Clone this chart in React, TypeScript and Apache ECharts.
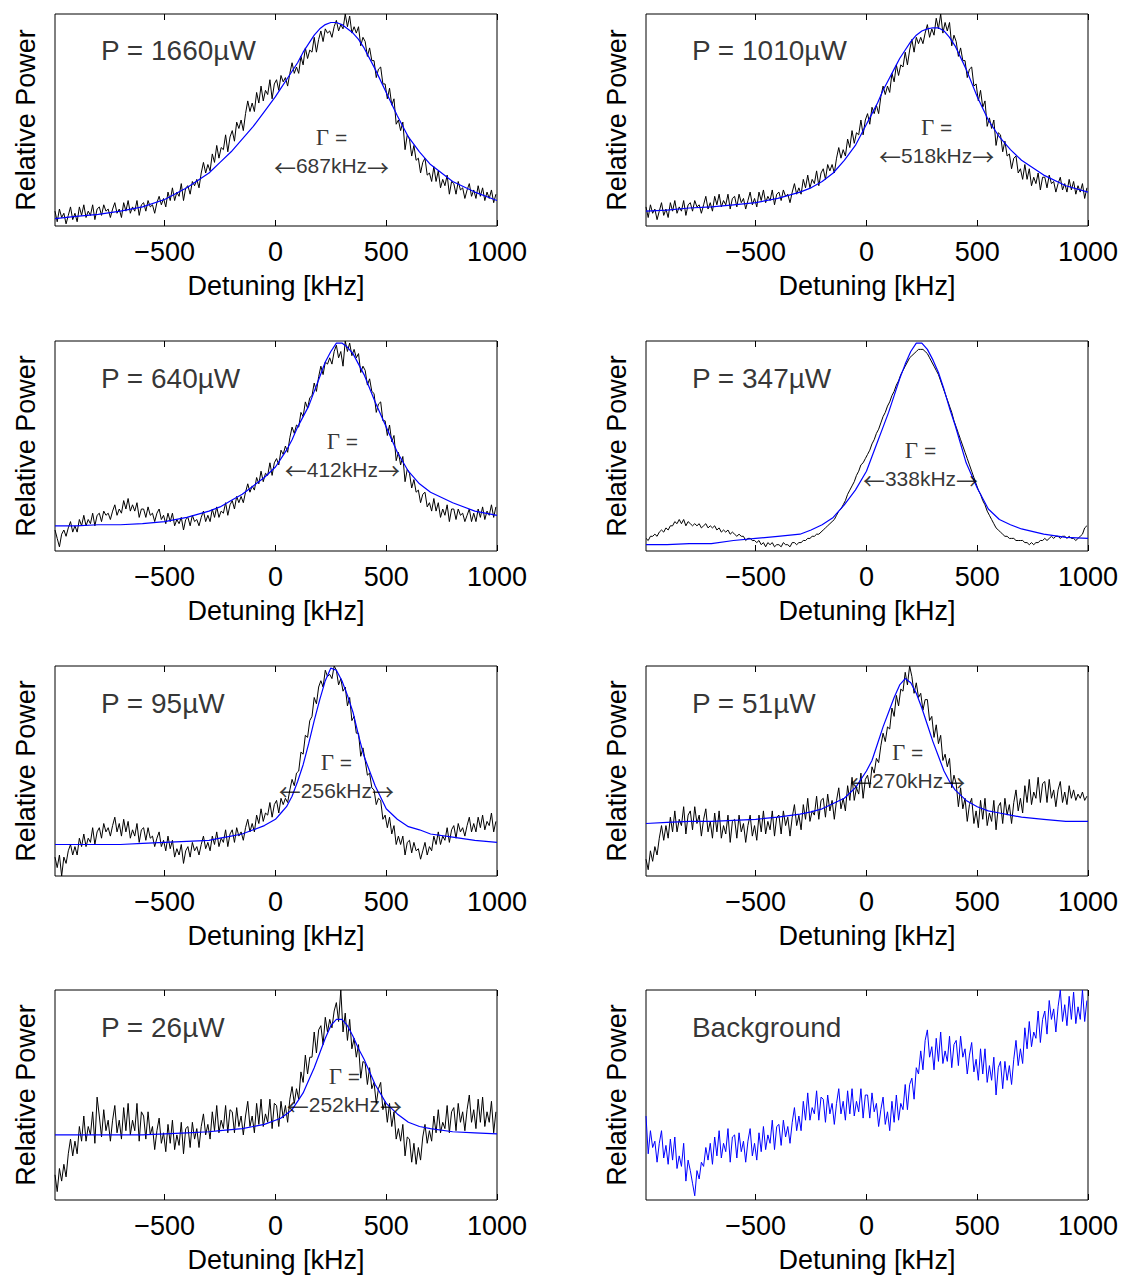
import React, { useEffect, useRef } from "react";
import * as echarts from "echarts";

// Detuning sample grid of the measured traces [kHz]
const DETUNING = [
  -995, -985, -975, -965, -955, -945, -935, -925, -915, -905, -895, -885, -875, -865, -855, -845, -835, -825, -815, -805,
  -795, -785, -775, -765, -755, -745, -735, -725, -715, -705, -695, -685, -675, -665, -655, -645, -635, -625, -615, -605,
  -595, -585, -575, -565, -555, -545, -535, -525, -515, -505, -495, -485, -475, -465, -455, -445, -435, -425, -415, -405,
  -395, -385, -375, -365, -355, -345, -335, -325, -315, -305, -295, -285, -275, -265, -255, -245, -235, -225, -215, -205,
  -195, -185, -175, -165, -155, -145, -135, -125, -115, -105, -95, -85, -75, -65, -55, -45, -35, -25, -15, -5,
  5, 15, 25, 35, 45, 55, 65, 75, 85, 95, 105, 115, 125, 135, 145, 155, 165, 175, 185, 195,
  205, 215, 225, 235, 245, 255, 265, 275, 285, 295, 305, 315, 325, 335, 345, 355, 365, 375, 385, 395,
  405, 415, 425, 435, 445, 455, 465, 475, 485, 495, 505, 515, 525, 535, 545, 555, 565, 575, 585, 595,
  605, 615, 625, 635, 645, 655, 665, 675, 685, 695, 705, 715, 725, 735, 745, 755, 765, 775, 785, 795,
  805, 815, 825, 835, 845, 855, 865, 875, 885, 895, 905, 915, 925, 935, 945, 955, 965, 975, 985, 995,
];

// Detuning grid of the fitted curves [kHz]
const FIT_DETUNING = [
  -995, -900, -800, -700, -600, -500, -400, -300, -250, -200, -150, -100, -50,
  0, 25, 50, 75, 100, 125, 150, 175, 200, 225, 250, 275, 300, 325, 350, 375,
  400, 450, 500, 550, 600, 650, 700, 800, 900, 1000,
];

const X_TICKS = [-500, 0, 500, 1000];

// Measured relative power (normalised to the panel's range)
const TRACE_1660 = [
  0.07, 0.02, 0.08, 0.04, 0.06, 0.01, 0.05, 0.09, 0.03, 0.06, 0.02, 0.09, 0.05, 0.10, 0.04, 0.07, 0.05, 0.10, 0.03, 0.08,
  0.09, 0.05, 0.10, 0.07, 0.08, 0.04, 0.08, 0.11, 0.06, 0.08, 0.04, 0.11, 0.07, 0.12, 0.06, 0.09, 0.07, 0.12, 0.05, 0.10,
  0.11, 0.07, 0.12, 0.09, 0.10, 0.06, 0.11, 0.14, 0.10, 0.13, 0.09, 0.16, 0.12, 0.18, 0.12, 0.16, 0.14, 0.20, 0.12, 0.18,
  0.19, 0.15, 0.21, 0.19, 0.22, 0.18, 0.25, 0.30, 0.25, 0.29, 0.26, 0.34, 0.30, 0.38, 0.32, 0.37, 0.36, 0.43, 0.35, 0.42,
  0.45, 0.40, 0.49, 0.46, 0.50, 0.45, 0.53, 0.59, 0.54, 0.58, 0.54, 0.63, 0.58, 0.66, 0.59, 0.64, 0.62, 0.69, 0.60, 0.67,
  0.69, 0.64, 0.71, 0.68, 0.70, 0.66, 0.72, 0.77, 0.72, 0.75, 0.72, 0.80, 0.76, 0.84, 0.79, 0.83, 0.82, 0.89, 0.82, 0.88,
  0.92, 0.87, 0.93, 0.91, 0.92, 0.89, 0.94, 0.97, 0.92, 0.95, 0.93, 1.00, 0.94, 0.99, 0.91, 0.94, 0.91, 0.94, 0.85, 0.89,
  0.87, 0.80, 0.84, 0.78, 0.78, 0.70, 0.74, 0.75, 0.67, 0.67, 0.60, 0.65, 0.57, 0.60, 0.48, 0.50, 0.45, 0.49, 0.36, 0.43,
  0.41, 0.33, 0.38, 0.31, 0.32, 0.25, 0.30, 0.32, 0.24, 0.25, 0.21, 0.28, 0.21, 0.26, 0.18, 0.22, 0.19, 0.24, 0.15, 0.21,
  0.20, 0.15, 0.21, 0.17, 0.18, 0.13, 0.17, 0.20, 0.14, 0.17, 0.13, 0.19, 0.14, 0.18, 0.12, 0.16, 0.13, 0.17, 0.11, 0.15,
];
const TRACE_1010 = [
  0.09, 0.04, 0.10, 0.06, 0.08, 0.03, 0.07, 0.11, 0.05, 0.08, 0.04, 0.11, 0.07, 0.12, 0.06, 0.09, 0.07, 0.12, 0.05, 0.10,
  0.11, 0.07, 0.12, 0.09, 0.10, 0.06, 0.10, 0.14, 0.08, 0.11, 0.07, 0.14, 0.10, 0.15, 0.09, 0.12, 0.10, 0.15, 0.08, 0.13,
  0.14, 0.09, 0.15, 0.11, 0.13, 0.08, 0.12, 0.16, 0.10, 0.13, 0.09, 0.16, 0.12, 0.17, 0.11, 0.14, 0.12, 0.17, 0.10, 0.15,
  0.16, 0.12, 0.17, 0.14, 0.15, 0.11, 0.16, 0.20, 0.15, 0.18, 0.15, 0.22, 0.18, 0.24, 0.18, 0.22, 0.20, 0.26, 0.19, 0.25,
  0.27, 0.22, 0.29, 0.26, 0.29, 0.25, 0.32, 0.37, 0.32, 0.36, 0.33, 0.41, 0.37, 0.45, 0.39, 0.44, 0.43, 0.50, 0.43, 0.50,
  0.53, 0.48, 0.56, 0.53, 0.57, 0.53, 0.61, 0.66, 0.62, 0.66, 0.63, 0.72, 0.68, 0.76, 0.71, 0.76, 0.75, 0.82, 0.76, 0.83,
  0.88, 0.82, 0.89, 0.86, 0.89, 0.86, 0.91, 0.95, 0.89, 0.93, 0.90, 0.98, 0.93, 1.00, 0.91, 0.96, 0.92, 0.96, 0.85, 0.90,
  0.87, 0.80, 0.84, 0.78, 0.78, 0.70, 0.74, 0.75, 0.66, 0.67, 0.59, 0.64, 0.56, 0.59, 0.47, 0.51, 0.46, 0.50, 0.38, 0.44,
  0.43, 0.35, 0.40, 0.33, 0.34, 0.27, 0.32, 0.33, 0.25, 0.27, 0.22, 0.29, 0.22, 0.27, 0.19, 0.23, 0.20, 0.25, 0.17, 0.23,
  0.23, 0.18, 0.24, 0.20, 0.21, 0.16, 0.20, 0.23, 0.17, 0.20, 0.16, 0.22, 0.17, 0.21, 0.15, 0.19, 0.16, 0.20, 0.13, 0.18,
];
const TRACE_640 = [
  0.10, 0.06, 0.02, 0.08, 0.10, 0.07, 0.11, 0.14, 0.09, 0.12, 0.09, 0.15, 0.12, 0.17, 0.12, 0.15, 0.13, 0.18, 0.12, 0.17,
  0.18, 0.14, 0.19, 0.17, 0.18, 0.15, 0.19, 0.22, 0.17, 0.20, 0.18, 0.24, 0.20, 0.25, 0.19, 0.22, 0.19, 0.23, 0.16, 0.20,
  0.20, 0.16, 0.21, 0.17, 0.18, 0.14, 0.18, 0.20, 0.15, 0.17, 0.13, 0.18, 0.14, 0.18, 0.12, 0.15, 0.13, 0.16, 0.10, 0.15,
  0.16, 0.12, 0.17, 0.14, 0.15, 0.12, 0.16, 0.19, 0.14, 0.17, 0.14, 0.20, 0.16, 0.21, 0.16, 0.19, 0.18, 0.23, 0.17, 0.22,
  0.24, 0.20, 0.26, 0.23, 0.26, 0.23, 0.28, 0.32, 0.28, 0.31, 0.29, 0.35, 0.32, 0.38, 0.33, 0.37, 0.36, 0.42, 0.36, 0.42,
  0.44, 0.41, 0.48, 0.46, 0.50, 0.47, 0.54, 0.59, 0.56, 0.60, 0.59, 0.66, 0.64, 0.71, 0.68, 0.73, 0.74, 0.80, 0.76, 0.83,
  0.88, 0.84, 0.90, 0.89, 0.92, 0.89, 0.95, 0.98, 0.92, 0.95, 0.88, 1.00, 0.95, 0.99, 0.93, 0.96, 0.92, 0.94, 0.85, 0.88,
  0.86, 0.79, 0.82, 0.76, 0.75, 0.66, 0.70, 0.71, 0.62, 0.62, 0.55, 0.60, 0.52, 0.55, 0.43, 0.47, 0.41, 0.45, 0.33, 0.39,
  0.37, 0.30, 0.34, 0.28, 0.29, 0.23, 0.27, 0.28, 0.21, 0.23, 0.19, 0.25, 0.19, 0.23, 0.16, 0.20, 0.17, 0.22, 0.14, 0.20,
  0.20, 0.15, 0.20, 0.17, 0.18, 0.14, 0.17, 0.20, 0.14, 0.18, 0.14, 0.20, 0.16, 0.21, 0.15, 0.19, 0.17, 0.22, 0.16, 0.21,
];
const TRACE_347 = [
  0.06, 0.05, 0.07, 0.07, 0.08, 0.07, 0.09, 0.10, 0.09, 0.11, 0.10, 0.12, 0.12, 0.14, 0.13, 0.15, 0.13, 0.15, 0.12, 0.14,
  0.13, 0.12, 0.13, 0.12, 0.13, 0.11, 0.12, 0.13, 0.11, 0.12, 0.11, 0.12, 0.10, 0.11, 0.09, 0.10, 0.09, 0.10, 0.08, 0.09,
  0.08, 0.07, 0.08, 0.07, 0.07, 0.05, 0.06, 0.06, 0.05, 0.05, 0.04, 0.05, 0.03, 0.04, 0.02, 0.04, 0.03, 0.04, 0.02, 0.03,
  0.03, 0.02, 0.04, 0.03, 0.03, 0.02, 0.04, 0.04, 0.03, 0.04, 0.04, 0.05, 0.05, 0.06, 0.06, 0.07, 0.07, 0.08, 0.08, 0.09,
  0.10, 0.11, 0.12, 0.13, 0.14, 0.15, 0.17, 0.19, 0.20, 0.22, 0.24, 0.27, 0.29, 0.31, 0.33, 0.36, 0.38, 0.41, 0.42, 0.44,
  0.46, 0.48, 0.51, 0.53, 0.56, 0.58, 0.61, 0.64, 0.66, 0.69, 0.71, 0.74, 0.76, 0.79, 0.81, 0.84, 0.86, 0.88, 0.90, 0.92,
  0.93, 0.94, 0.95, 0.96, 0.96, 0.96, 0.95, 0.94, 0.92, 0.90, 0.88, 0.86, 0.84, 0.81, 0.78, 0.75, 0.72, 0.69, 0.66, 0.62,
  0.59, 0.56, 0.53, 0.50, 0.47, 0.44, 0.41, 0.38, 0.35, 0.32, 0.29, 0.27, 0.24, 0.22, 0.19, 0.17, 0.15, 0.13, 0.11, 0.10,
  0.09, 0.08, 0.07, 0.07, 0.06, 0.06, 0.06, 0.05, 0.05, 0.05, 0.05, 0.04, 0.04, 0.03, 0.04, 0.03, 0.04, 0.04, 0.05, 0.05,
  0.06, 0.05, 0.06, 0.07, 0.06, 0.07, 0.07, 0.06, 0.07, 0.07, 0.06, 0.07, 0.06, 0.06, 0.05, 0.06, 0.07, 0.08, 0.11, 0.12,
];
const TRACE_95 = [
  0.09, 0.04, 0.10, 0.00, 0.09, 0.06, 0.12, 0.15, 0.10, 0.14, 0.10, 0.18, 0.14, 0.20, 0.14, 0.18, 0.16, 0.23, 0.15, 0.21,
  0.23, 0.18, 0.25, 0.21, 0.23, 0.19, 0.24, 0.28, 0.21, 0.25, 0.19, 0.27, 0.21, 0.26, 0.18, 0.22, 0.19, 0.25, 0.16, 0.22,
  0.23, 0.17, 0.23, 0.18, 0.19, 0.14, 0.18, 0.21, 0.14, 0.17, 0.12, 0.19, 0.13, 0.17, 0.09, 0.13, 0.10, 0.15, 0.06, 0.12,
  0.14, 0.09, 0.16, 0.12, 0.14, 0.10, 0.15, 0.19, 0.13, 0.16, 0.12, 0.19, 0.15, 0.21, 0.14, 0.18, 0.16, 0.22, 0.14, 0.20,
  0.22, 0.16, 0.23, 0.19, 0.21, 0.17, 0.23, 0.27, 0.21, 0.25, 0.21, 0.29, 0.25, 0.32, 0.26, 0.30, 0.29, 0.35, 0.28, 0.34,
  0.36, 0.30, 0.37, 0.34, 0.37, 0.35, 0.41, 0.46, 0.43, 0.49, 0.50, 0.59, 0.58, 0.67, 0.66, 0.74, 0.76, 0.85, 0.82, 0.90,
  0.93, 0.90, 0.98, 0.95, 0.96, 0.94, 1.00, 0.98, 0.91, 0.94, 0.88, 0.90, 0.81, 0.85, 0.74, 0.76, 0.68, 0.68, 0.57, 0.61,
  0.55, 0.48, 0.49, 0.42, 0.41, 0.34, 0.37, 0.36, 0.27, 0.29, 0.23, 0.28, 0.20, 0.24, 0.15, 0.19, 0.15, 0.19, 0.10, 0.16,
  0.17, 0.11, 0.16, 0.12, 0.13, 0.08, 0.12, 0.16, 0.10, 0.14, 0.12, 0.19, 0.15, 0.21, 0.15, 0.19, 0.17, 0.23, 0.16, 0.22,
  0.24, 0.18, 0.25, 0.21, 0.23, 0.19, 0.24, 0.28, 0.21, 0.25, 0.21, 0.28, 0.23, 0.29, 0.22, 0.26, 0.24, 0.30, 0.21, 0.26,
];
const TRACE_51 = [
  0.08, 0.03, 0.12, 0.07, 0.14, 0.10, 0.18, 0.24, 0.17, 0.24, 0.18, 0.28, 0.21, 0.31, 0.21, 0.27, 0.24, 0.33, 0.20, 0.29,
  0.31, 0.22, 0.33, 0.25, 0.29, 0.19, 0.27, 0.32, 0.21, 0.26, 0.18, 0.30, 0.21, 0.31, 0.18, 0.24, 0.20, 0.29, 0.16, 0.26,
  0.27, 0.18, 0.29, 0.21, 0.25, 0.16, 0.24, 0.29, 0.19, 0.24, 0.17, 0.29, 0.21, 0.31, 0.20, 0.26, 0.22, 0.31, 0.19, 0.28,
  0.29, 0.20, 0.31, 0.24, 0.28, 0.19, 0.28, 0.34, 0.24, 0.29, 0.22, 0.34, 0.27, 0.37, 0.26, 0.31, 0.29, 0.38, 0.27, 0.36,
  0.37, 0.28, 0.39, 0.31, 0.36, 0.27, 0.36, 0.42, 0.32, 0.37, 0.31, 0.43, 0.36, 0.47, 0.36, 0.42, 0.39, 0.49, 0.37, 0.46,
  0.48, 0.42, 0.52, 0.49, 0.56, 0.54, 0.62, 0.68, 0.64, 0.71, 0.70, 0.80, 0.76, 0.86, 0.81, 0.89, 0.88, 0.97, 0.91, 1.00,
  0.95, 0.87, 0.92, 0.85, 0.87, 0.79, 0.84, 0.84, 0.74, 0.76, 0.66, 0.72, 0.63, 0.67, 0.55, 0.58, 0.52, 0.56, 0.42, 0.48,
  0.44, 0.33, 0.42, 0.32, 0.37, 0.26, 0.34, 0.37, 0.25, 0.31, 0.23, 0.36, 0.27, 0.37, 0.24, 0.30, 0.26, 0.36, 0.22, 0.33,
  0.35, 0.25, 0.37, 0.29, 0.34, 0.25, 0.35, 0.41, 0.31, 0.37, 0.30, 0.43, 0.35, 0.46, 0.34, 0.40, 0.37, 0.47, 0.35, 0.44,
  0.45, 0.35, 0.46, 0.37, 0.41, 0.33, 0.41, 0.45, 0.35, 0.40, 0.34, 0.43, 0.37, 0.41, 0.36, 0.39, 0.37, 0.40, 0.36, 0.38,
];
const TRACE_26 = [
  0.12, 0.04, 0.15, 0.09, 0.17, 0.11, 0.22, 0.29, 0.21, 0.28, 0.22, 0.35, 0.28, 0.40, 0.28, 0.35, 0.31, 0.42, 0.27, 0.49,
  0.40, 0.30, 0.43, 0.33, 0.38, 0.28, 0.38, 0.45, 0.32, 0.38, 0.29, 0.44, 0.33, 0.46, 0.31, 0.38, 0.33, 0.46, 0.28, 0.42,
  0.40, 0.29, 0.42, 0.31, 0.35, 0.24, 0.33, 0.39, 0.27, 0.32, 0.23, 0.36, 0.27, 0.38, 0.24, 0.31, 0.26, 0.37, 0.22, 0.34,
  0.35, 0.25, 0.37, 0.29, 0.34, 0.25, 0.35, 0.41, 0.31, 0.36, 0.29, 0.42, 0.33, 0.45, 0.32, 0.38, 0.34, 0.45, 0.32, 0.43,
  0.42, 0.32, 0.44, 0.35, 0.40, 0.31, 0.40, 0.47, 0.35, 0.40, 0.32, 0.46, 0.36, 0.48, 0.35, 0.41, 0.37, 0.48, 0.34, 0.46,
  0.45, 0.35, 0.47, 0.39, 0.45, 0.37, 0.48, 0.54, 0.46, 0.53, 0.48, 0.61, 0.56, 0.69, 0.60, 0.68, 0.68, 0.80, 0.70, 0.81,
  0.83, 0.74, 0.87, 0.80, 0.86, 0.82, 0.90, 0.94, 0.85, 1.00, 0.80, 0.89, 0.76, 0.86, 0.72, 0.77, 0.68, 0.74, 0.58, 0.66,
  0.65, 0.55, 0.63, 0.53, 0.56, 0.46, 0.53, 0.56, 0.43, 0.47, 0.37, 0.46, 0.35, 0.42, 0.29, 0.34, 0.28, 0.36, 0.21, 0.30,
  0.29, 0.18, 0.27, 0.17, 0.25, 0.19, 0.30, 0.36, 0.27, 0.33, 0.28, 0.40, 0.32, 0.43, 0.32, 0.37, 0.34, 0.45, 0.32, 0.42,
  0.44, 0.33, 0.46, 0.37, 0.42, 0.33, 0.43, 0.50, 0.37, 0.43, 0.34, 0.48, 0.37, 0.49, 0.35, 0.42, 0.37, 0.47, 0.32, 0.42,
];
const TRACE_BACKGROUND = [
  0.40, 0.22, 0.33, 0.25, 0.28, 0.18, 0.27, 0.33, 0.20, 0.26, 0.17, 0.29, 0.19, 0.30, 0.15, 0.21, 0.16, 0.27, 0.09, 0.19,
  0.14, 0.08, 0.02, 0.14, 0.10, 0.18, 0.16, 0.25, 0.19, 0.27, 0.17, 0.30, 0.21, 0.33, 0.20, 0.27, 0.23, 0.34, 0.18, 0.30,
  0.31, 0.20, 0.32, 0.23, 0.28, 0.18, 0.28, 0.34, 0.21, 0.27, 0.19, 0.32, 0.23, 0.35, 0.24, 0.31, 0.27, 0.38, 0.24, 0.35,
  0.36, 0.26, 0.38, 0.30, 0.35, 0.27, 0.37, 0.44, 0.33, 0.40, 0.33, 0.47, 0.38, 0.51, 0.38, 0.44, 0.41, 0.52, 0.38, 0.49,
  0.48, 0.37, 0.50, 0.41, 0.46, 0.36, 0.46, 0.53, 0.41, 0.47, 0.38, 0.52, 0.41, 0.53, 0.40, 0.47, 0.42, 0.53, 0.39, 0.50,
  0.50, 0.39, 0.51, 0.42, 0.46, 0.35, 0.43, 0.49, 0.36, 0.42, 0.33, 0.47, 0.37, 0.50, 0.38, 0.46, 0.43, 0.55, 0.43, 0.55,
  0.58, 0.48, 0.63, 0.60, 0.71, 0.62, 0.76, 0.81, 0.68, 0.73, 0.62, 0.77, 0.66, 0.80, 0.65, 0.71, 0.66, 0.78, 0.63, 0.74,
  0.76, 0.64, 0.78, 0.68, 0.72, 0.60, 0.69, 0.75, 0.61, 0.67, 0.57, 0.72, 0.60, 0.72, 0.56, 0.64, 0.57, 0.68, 0.50, 0.63,
  0.66, 0.53, 0.66, 0.57, 0.64, 0.55, 0.67, 0.76, 0.64, 0.72, 0.65, 0.82, 0.72, 0.85, 0.73, 0.80, 0.77, 0.90, 0.75, 0.86,
  0.90, 0.79, 0.95, 0.86, 0.91, 0.80, 0.92, 1.00, 0.85, 0.93, 0.83, 0.97, 0.86, 0.99, 0.84, 0.92, 0.86, 1.00, 0.85, 0.95,
];

// Fitted Lorentzian curves
const FIT_1660 = [
  0.035, 0.045, 0.055, 0.07, 0.09, 0.125, 0.18, 0.25, 0.30, 0.35, 0.41, 0.47, 0.54,
  0.61, 0.65, 0.69, 0.73, 0.77, 0.82, 0.86, 0.90, 0.93, 0.95, 0.96, 0.96, 0.95, 0.93, 0.91, 0.88,
  0.84, 0.74, 0.63, 0.52, 0.42, 0.35, 0.29, 0.21, 0.16, 0.12,
];
const FIT_1010 = [
  0.07, 0.075, 0.085, 0.09, 0.10, 0.11, 0.13, 0.16, 0.18, 0.21, 0.25, 0.31, 0.38,
  0.48, 0.53, 0.58, 0.64, 0.69, 0.74, 0.79, 0.83, 0.87, 0.90, 0.92, 0.93, 0.935, 0.935, 0.92, 0.89,
  0.85, 0.74, 0.61, 0.50, 0.42, 0.36, 0.31, 0.24, 0.19, 0.16,
];
const FIT_640 = [
  0.12, 0.12, 0.125, 0.125, 0.13, 0.14, 0.16, 0.19, 0.21, 0.24, 0.27, 0.31, 0.35,
  0.40, 0.44, 0.48, 0.53, 0.59, 0.64, 0.69, 0.76, 0.83, 0.90, 0.95, 0.99, 0.99, 0.97, 0.94, 0.89,
  0.84, 0.71, 0.59, 0.47, 0.38, 0.32, 0.28, 0.23, 0.19, 0.17,
];
const FIT_347 = [
  0.03, 0.03, 0.035, 0.035, 0.05, 0.06, 0.07, 0.08, 0.10, 0.125, 0.16, 0.22, 0.29,
  0.38, 0.45, 0.52, 0.59, 0.66, 0.74, 0.82, 0.89, 0.95, 0.99, 0.99, 0.96, 0.91, 0.85, 0.77, 0.68,
  0.60, 0.42, 0.30, 0.20, 0.15, 0.125, 0.105, 0.08, 0.065, 0.06,
];
const FIT_95 = [
  0.15, 0.15, 0.15, 0.15, 0.155, 0.16, 0.165, 0.17, 0.18, 0.19, 0.20, 0.22, 0.24,
  0.27, 0.30, 0.33, 0.38, 0.45, 0.53, 0.63, 0.74, 0.84, 0.93, 0.99, 0.98, 0.93, 0.86, 0.78, 0.67,
  0.57, 0.43, 0.32, 0.27, 0.235, 0.22, 0.20, 0.185, 0.17, 0.16,
];
const FIT_51 = [
  0.25, 0.255, 0.26, 0.26, 0.265, 0.27, 0.28, 0.295, 0.305, 0.32, 0.345, 0.37, 0.42,
  0.50, 0.55, 0.63, 0.71, 0.78, 0.85, 0.91, 0.94, 0.92, 0.87, 0.80, 0.72, 0.64, 0.57, 0.50, 0.45,
  0.41, 0.36, 0.33, 0.31, 0.30, 0.29, 0.28, 0.27, 0.26, 0.26,
];
const FIT_26 = [
  0.31, 0.31, 0.31, 0.31, 0.31, 0.315, 0.32, 0.325, 0.33, 0.335, 0.34, 0.35, 0.36,
  0.38, 0.39, 0.41, 0.43, 0.47, 0.51, 0.57, 0.63, 0.70, 0.77, 0.83, 0.86, 0.86, 0.83, 0.78, 0.72,
  0.67, 0.55, 0.46, 0.41, 0.37, 0.35, 0.34, 0.325, 0.32, 0.315,
];

const PANEL_TITLES = [
  "P = 1660µW", "P = 1010µW", "P = 640µW", "P = 347µW",
  "P = 95µW", "P = 51µW", "P = 26µW", "Background",
];
const TRACES = [
  TRACE_1660, TRACE_1010, TRACE_640, TRACE_347,
  TRACE_95, TRACE_51, TRACE_26, TRACE_BACKGROUND,
];
const FITS = [FIT_1660, FIT_1010, FIT_640, FIT_347, FIT_95, FIT_51, FIT_26, null];
const LINEWIDTHS = ["687kHz", "518kHz", "412kHz", "338kHz", "256kHz", "270kHz", "252kHz", null];
// anchor of the Γ annotation in data coordinates (detuning, relative power)
const GAMMA_ANCHORS: [number, number][] = [
  [253, 0.35], [317, 0.4], [302, 0.455], [244, 0.41],
  [275, 0.474], [186, 0.52], [311, 0.52], [0, 0],
];

const SANS = "'Liberation Sans', Arial, Helvetica, sans-serif";
const SERIF = "'Liberation Serif', 'Times New Roman', serif";
const ARROW_FONT = "'Noto Sans CJK JP', 'DejaVu Sans', sans-serif";

const COL_LEFT = [55, 646];
const ROW_TOP = [14, 341, 666, 990];
const ROW_H = [212, 210, 210, 210];
const PLOT_W = 442;

function buildOption() {
  const grid: any[] = [];
  const xAxis: any[] = [];
  const yAxis: any[] = [];
  const series: any[] = [];

  PANEL_TITLES.forEach((title, i) => {
    const col = i % 2;
    const row = Math.floor(i / 2);
    grid.push({
      left: COL_LEFT[col],
      top: ROW_TOP[row],
      width: PLOT_W,
      height: ROW_H[row],
      show: true,
      borderColor: "#000",
      borderWidth: 1,
      backgroundColor: "#fff",
    });
    const tickCommon = {
      show: true,
      inside: true,
      length: 6,
      customValues: X_TICKS,
      lineStyle: { color: "#000", width: 1 },
    };
    xAxis.push({
      gridIndex: i,
      type: "value",
      min: -995,
      max: 1000,
      position: "bottom",
      axisLine: { show: false },
      axisTick: tickCommon,
      axisLabel: {
        show: true,
        customValues: X_TICKS,
        formatter: (v: number) => String(v).replace("-", "\u2212"),
        fontSize: 27,
        color: "#000",
        fontFamily: SANS,
        margin: 12,
      },
      splitLine: { show: false },
      name: "Detuning [kHz]",
      nameLocation: "middle",
      nameGap: 46,
      nameTextStyle: { fontSize: 27, color: "#000", fontFamily: SANS },
    });
    xAxis.push({
      gridIndex: i,
      type: "value",
      min: -995,
      max: 1000,
      position: "top",
      axisLine: { show: false },
      axisTick: tickCommon,
      axisLabel: { show: false },
      splitLine: { show: false },
    });
    yAxis.push({
      gridIndex: i,
      type: "value",
      min: 0,
      max: 1,
      axisLine: { show: false },
      axisTick: { show: false },
      axisLabel: { show: false },
      splitLine: { show: false },
      name: "Relative Power",
      nameLocation: "middle",
      nameRotate: 90,
      nameGap: 16,
      nameTextStyle: { fontSize: 27, color: "#000", fontFamily: SANS },
    });

    const isBackground = FITS[i] === null;
    series.push({
      type: "line",
      xAxisIndex: 2 * i,
      yAxisIndex: i,
      data: DETUNING.map((d, k) => [d, TRACES[i][k]]),
      showSymbol: false,
      symbol: "none",
      silent: true,
      lineStyle: { color: isBackground ? "#0000ff" : "#000", width: 1 },
      z: 2,
    });
    const fit = FITS[i];
    if (fit) {
      series.push({
        type: "line",
        xAxisIndex: 2 * i,
        yAxisIndex: i,
        data: FIT_DETUNING.map((d, k) => [d, fit[k]]),
        showSymbol: false,
        symbol: "none",
        silent: true,
        lineStyle: { color: "#0000ff", width: 1.2 },
        z: 3,
      });
    }
    series.push({
      type: "scatter",
      xAxisIndex: 2 * i,
      yAxisIndex: i,
      data: [[-790, row === 0 ? 0.83 : 0.82]],
      symbolSize: 1,
      silent: true,
      itemStyle: { color: "rgba(0,0,0,0)" },
      label: {
        show: true,
        position: "right",
        distance: 0,
        formatter: title,
        fontSize: 28,
        color: "#000",
        fontFamily: SANS,
      },
      z: 10,
    });
    const lw = LINEWIDTHS[i];
    if (lw) {
      series.push({
        type: "scatter",
        xAxisIndex: 2 * i,
        yAxisIndex: i,
        data: [GAMMA_ANCHORS[i]],
        symbolSize: 1,
        silent: true,
        itemStyle: { color: "rgba(0,0,0,0)" },
        label: {
          show: true,
          position: "inside",
          formatter: "{g|\u0393} =\n{a|\u2190}" + lw + "{a|\u2192}",
          fontSize: 21,
          lineHeight: 28,
          color: "#000",
          fontFamily: SANS,
          align: "center",
          rich: {
            g: { fontFamily: SERIF, fontSize: 23, color: "#000", lineHeight: 28 },
            a: { fontFamily: ARROW_FONT, fontSize: 22, color: "#000", lineHeight: 28 },
          },
        },
        z: 10,
      });
    }
  });

  return {
    animation: false,
    backgroundColor: "#fff",
    grid,
    xAxis,
    yAxis,
    series,
  };
}

export default function App() {
  const ref = useRef<HTMLDivElement>(null);
  useEffect(() => {
    if (!ref.current) return;
    const chart = echarts.init(ref.current, undefined, { renderer: "svg" });
    chart.setOption(buildOption() as any);
    return () => chart.dispose();
  }, []);
  return (
    <div
      ref={ref}
      style={{ position: "absolute", left: 0, top: 0, width: 1125, height: 1277, background: "#fff" }}
    />
  );
}
